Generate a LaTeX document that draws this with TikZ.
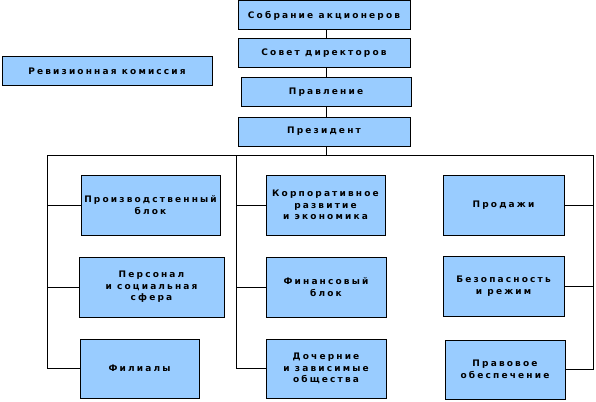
\documentclass[tikz,border=0pt]{standalone}
\usepackage{fontspec}
\newfontfamily\boxfont{DejaVu Sans Bold}[LetterSpace=24]
\definecolor{boxblue}{RGB}{153,204,255}
\begin{document}
\begin{tikzpicture}[x=1pt,y=-1pt,
  box/.style={draw=black,line width=1pt,fill=boxblue,inner sep=0pt,align=center,
    font=\boxfont\fontsize{9}{11.5}\selectfont,text=black},
  conn/.style={draw=black,line width=1pt}]
\useasboundingbox (0,0) rectangle (596,401);
% top chain
\node[box,minimum width=172pt,minimum height=29pt] (sobr) at (324,15.5) {Собрание акционеров};
\node[box,minimum width=172pt,minimum height=29pt] (sovet) at (324,53.5) {Совет директоров};
\node[box,minimum width=170pt,minimum height=29pt] (prav) at (326,92.5) {Правление};
\node[box,minimum width=172pt,minimum height=29pt] (prez) at (324,131.5) {Президент};
\node[box,minimum width=210pt,minimum height=29pt] (rev) at (107,71.5) {Ревизионная комиссия};
% left column
\node[box,minimum width=139pt,minimum height=60pt] (proizv) at (150.5,205) {Производственный\\блок};
\node[box,minimum width=145pt,minimum height=60pt] (pers) at (151.5,287) {Персонал\\и социальная\\сфера};
\node[box,minimum width=119pt,minimum height=59pt] (fil) at (139.5,368.5) {Филиалы};
% middle column
\node[box,minimum width=119pt,minimum height=60pt] (korp) at (325.5,205) {Корпоративное\\развитие\\и экономика};
\node[box,minimum width=120pt,minimum height=60pt] (fin) at (326,287) {Финансовый\\блок};
\node[box,minimum width=120pt,minimum height=59pt] (doch) at (326,368.5) {Дочерние\\и зависимые\\общества};
% right column
\node[box,minimum width=121pt,minimum height=60pt] (prod) at (503.5,205) {Продажи};
\node[box,minimum width=121pt,minimum height=60pt] (bez) at (503.5,286) {Безопасность\\и режим};
\node[box,minimum width=120pt,minimum height=59pt] (pravo) at (505,369.5) {Правовое\\обеспечение};
% coordinates
\coordinate (trunk) at (326,0);
\coordinate (busL) at (47,155);
\coordinate (busM) at (236,155);
\coordinate (busR) at (593,155);
% trunk
\draw[conn] (sobr.south -| trunk) -- (sovet.north -| trunk);
\draw[conn] (sovet.south -| trunk) -- (prav.north -| trunk);
\draw[conn] (prav.south -| trunk) -- (prez.north -| trunk);
\draw[conn] (prez.south -| trunk) -- (trunk |- busL);
% bus
\draw[conn] (busL) -- (busR);
% left
\draw[conn] (busL) |- (fil.west);
\draw[conn] (busL |- proizv.west) -- (proizv.west);
\draw[conn] (busL |- pers.west) -- (pers.west);
% middle
\draw[conn] (busM) |- (doch.west);
\draw[conn] (busM |- korp.west) -- (korp.west);
\draw[conn] (busM |- fin.west) -- (fin.west);
% right
\draw[conn] (busR) |- (pravo.east);
\draw[conn] (busR |- prod.east) -- (prod.east);
\draw[conn] (busR |- bez.east) -- (bez.east);
\end{tikzpicture}
\end{document}
